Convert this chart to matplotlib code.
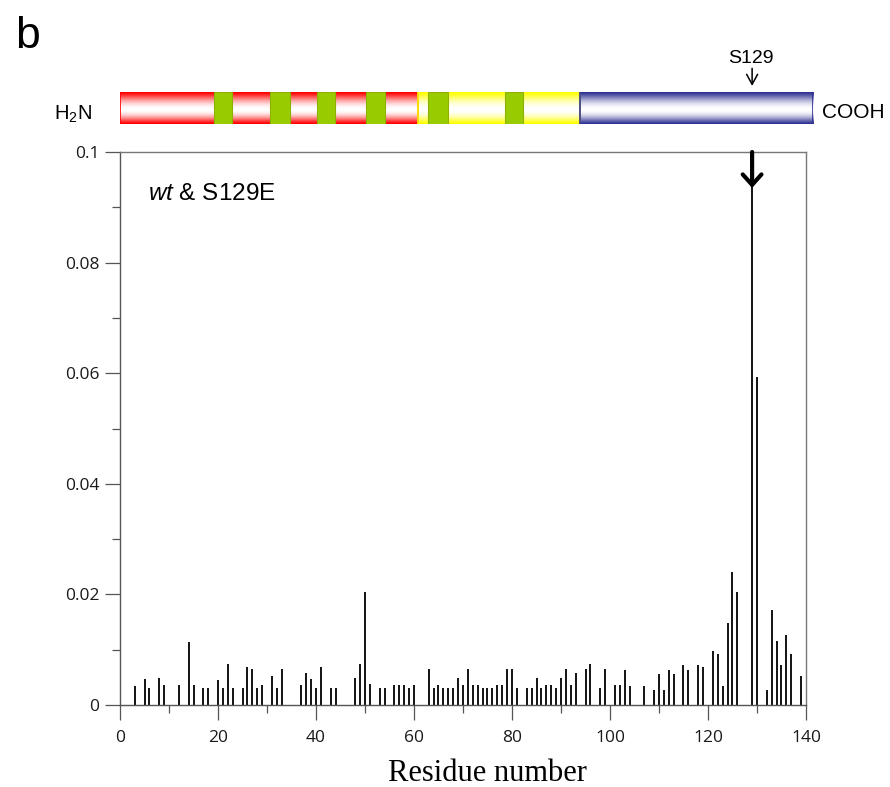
import numpy as np
import matplotlib

matplotlib.use("Agg")
import matplotlib.pyplot as plt
from matplotlib.patches import Rectangle
from matplotlib.ticker import MultipleLocator

# Per-residue values (wt & S129E).
residues = [3, 5, 6, 8, 9, 12, 14, 15, 17, 18, 20, 21, 22, 23, 25, 26, 27, 28, 29, 31, 32, 33,
            37, 38, 39, 40, 41, 43, 44, 48, 49, 50, 51, 53, 54, 56, 57, 58, 59, 60,
            63, 64, 65, 66, 67, 68, 69, 70, 71, 72, 73, 74, 75, 76, 77, 78, 79, 80, 81,
            83, 84, 85, 86, 87, 88, 89, 90, 91, 92, 93, 95, 96, 98, 99, 101, 102, 103, 104,
            107, 109, 110, 111, 112, 113, 115, 116, 118, 119, 121, 122, 123, 124, 125, 126,
            129, 130, 132, 133, 134, 135, 136, 137, 139]
values = [0.0034, 0.0047, 0.0030, 0.0049, 0.0036, 0.0036, 0.0114, 0.0036, 0.0030, 0.0030,
          0.0045, 0.0030, 0.0075, 0.0030, 0.0030, 0.0069, 0.0065, 0.0030, 0.0036, 0.0052,
          0.0030, 0.0065,
          0.0036, 0.0057, 0.0047, 0.0030, 0.0069, 0.0030, 0.0030, 0.0049, 0.0075, 0.0205,
          0.0038, 0.0030, 0.0030, 0.0036, 0.0036, 0.0036, 0.0030, 0.0036,
          0.0065, 0.0030, 0.0036, 0.0030, 0.0030, 0.0030, 0.0049, 0.0036, 0.0065, 0.0036,
          0.0036, 0.0030, 0.0030, 0.0030, 0.0036, 0.0036, 0.0065, 0.0065, 0.0030,
          0.0030, 0.0030, 0.0049, 0.0030, 0.0036, 0.0036, 0.0030, 0.0049, 0.0065, 0.0036,
          0.0057, 0.0065, 0.0075, 0.0030, 0.0065, 0.0036, 0.0036, 0.0063, 0.0035,
          0.0034, 0.0028, 0.0056, 0.0028, 0.0063, 0.0056, 0.0073, 0.0063, 0.0073, 0.0068,
          0.0097, 0.0092, 0.0034, 0.0148, 0.0240, 0.0204,
          0.1000, 0.0593, 0.0028, 0.0171, 0.0116, 0.0073, 0.0127, 0.0092, 0.0053]

x_ticks = [0, 20, 40, 60, 80, 100, 120, 140]
y_ticks = [0, 0.02, 0.04, 0.06, 0.08, 0.1]
y_tick_labels = ["0", "0.02", "0.04", "0.06", "0.08", "0.1"]
site_residue = 129

# Domain sketch of the protein, in units of the sketch bar (0..140).
domain_starts = [0, 60.3, 92.9]
domain_ends = [60.3, 92.9, 140]
domain_colors = ["#FF0000", "#FFFF00", "#2E3192"]
repeat_starts = [18.9, 30.4, 39.7, 49.7, 62.2, 77.8]
repeat_ends = [22.6, 34.3, 43.5, 53.5, 66.2, 81.5]

plt.rcParams["mathtext.fontset"] = "custom"
plt.rcParams["mathtext.rm"] = "Liberation Sans"
plt.rcParams["mathtext.it"] = "Liberation Sans:italic"

W, H = 890, 787
fig = plt.figure(figsize=(W / 100, H / 100), dpi=100)


def px_axes(x0, y0, x1, y1):
    # axes from pixel box (top-left origin)
    return fig.add_axes([x0 / W, 1 - y1 / H, (x1 - x0) / W, (y1 - y0) / H])


def gradient_strip(color, n=80):
    rgb = np.array(matplotlib.colors.to_rgb(color))
    t = np.linspace(0, 1, n)
    w = np.where(t < 0.55, 1 - ((0.55 - t) / 0.55) ** 2, 1 - ((t - 0.55) / 0.45) ** 2)
    w = np.clip(w, 0, 1) ** 1.4
    img = w[:, None] * np.ones(3) + (1 - w[:, None]) * rgb
    return img[:, None, :]


# Main plot.
ax = px_axes(120, 152, 806, 705)
ax.vlines(residues, 0, values, color="black", lw=1.3)
ax.set_xlim(0, 140)
ax.set_ylim(0, 0.1)
ax.set_xticks(x_ticks)
ax.set_yticks(y_ticks)
ax.set_yticklabels(y_tick_labels)
ax.xaxis.set_minor_locator(MultipleLocator(10))
ax.yaxis.set_minor_locator(MultipleLocator(0.01))
ax.tick_params(which="major", length=11, width=0.9, color="#555555", pad=4,
               labelsize=12.5, labelcolor="#1a1a1a")
ax.tick_params(axis="x", which="major", pad=7)
ax.tick_params(which="minor", length=6, width=0.9, color="#555555")
for lab in ax.get_xticklabels() + ax.get_yticklabels():
    lab.set_fontfamily("Open Sans")
for side in ["left", "bottom"]:
    ax.spines[side].set_color("#555555")
    ax.spines[side].set_linewidth(1.0)
for side in ["top", "right"]:
    ax.spines[side].set_color("#777777")
    ax.spines[side].set_linewidth(1.0)

ax.annotate("", xy=(site_residue, 0.0935), xytext=(site_residue, 0.1),
            arrowprops=dict(arrowstyle="->, head_length=0.5, head_width=0.45", lw=3,
                            color="black", shrinkA=0, shrinkB=0, mutation_scale=15))
ax.text(0.041, 0.913, r"$\mathit{wt}$ & S129E", transform=ax.transAxes,
        fontsize=17.5, family="Liberation Sans", va="baseline")

fig.text(487 / W, 1 - 781 / H, "Residue number", family="Liberation Serif",
         fontsize=22, ha="center", va="baseline")

# Domain sketch above the plot.
dax = px_axes(120, 92, 813, 124)
dax.set_xlim(0, 140)
dax.set_ylim(0, 1)
dax.axis("off")
for x0, x1, c in zip(domain_starts, domain_ends, domain_colors):
    dax.imshow(gradient_strip(c), extent=(x0, x1, 0, 1), aspect="auto", interpolation="bilinear")
    dax.add_patch(Rectangle((x0, 0), x1 - x0, 1, fill=False, edgecolor=c, lw=1.2))
for x0, x1 in zip(repeat_starts, repeat_ends):
    dax.add_patch(Rectangle((x0, 0), x1 - x0, 1, facecolor="#99CC00", edgecolor="#8FB000", lw=0.8))
dax.set_xlim(0, 140)
dax.set_ylim(0, 1)

dax.text(-5.66, 0.125, r"H$_2$N", family="Liberation Sans", fontsize=14.5,
         ha="right", va="baseline", clip_on=False)
dax.text(141.8, 0.19, "COOH", family="Liberation Sans", fontsize=15,
         ha="left", va="baseline", clip_on=False)
dax.annotate("", xy=(127.7, 1.19), xytext=(127.7, 1.74), annotation_clip=False,
             arrowprops=dict(arrowstyle="->, head_length=0.4, head_width=0.22", lw=1.1,
                             color="black", shrinkA=0, shrinkB=0, mutation_scale=18))
dax.text(127.4, 1.92, "S129", family="Liberation Sans", fontsize=14,
         ha="center", va="baseline", clip_on=False)

fig.text(15 / W, 1 - 48 / H, "b", family="Liberation Sans", fontsize=32, va="baseline")

fig.savefig("out.png", dpi=100)
